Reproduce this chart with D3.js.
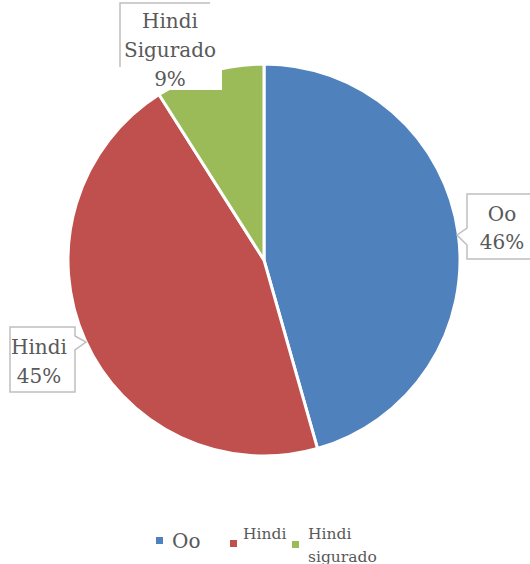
<!DOCTYPE html>
<html>
<head>
<meta charset="utf-8">
<script src="https://cdn.jsdelivr.net/npm/d3@7"></script>
<style>
  body { margin: 0; background: #fff; }
  text { font-family: "DejaVu Serif", serif; fill: #595959; }
</style>
</head>
<body>
<div id="chart"></div>
<script>
// chart data
var categories = ["Oo", "Hindi", "Hindi Sigurado"];
var values = [45.6, 45.4, 9.0];
var colors = ["#4F81BD", "#C0504D", "#9BBB59"];
var labelLines = [["Oo", "46%"], ["Hindi", "45%"], ["Hindi", "Sigurado", "9%"]];
var legendLines = [["Oo"], ["Hindi"], ["Hindi", "sigurado"]];

var width = 530, height = 564;
var cx = 264, cy = 260, radius = 196;

var svg = d3.select("#chart")
  .append("svg")
    .attr("width", width)
    .attr("height", height);

var data = categories.map(function (c, i) {
  return { name: c, value: values[i], color: colors[i], lines: labelLines[i], legend: legendLines[i] };
});

var pie = d3.pie()
  .sort(null)
  .value(function (d) { return d.value; });

var arc = d3.arc()
  .innerRadius(0)
  .outerRadius(radius);

var g = svg.append("g")
  .attr("transform", "translate(" + cx + "," + cy + ")");

g.selectAll("path")
  .data(pie(data))
  .enter()
  .append("path")
    .attr("d", arc)
    .attr("fill", function (d) { return d.data.color; })
    .attr("stroke", "#fff")
    .attr("stroke-width", 3);

// callout boxes (Excel style, placed by hand like the original)
var boxStroke = "#bfbfbf";

// Oo box with pointer on left side
svg.append("path")
  .attr("d", "M540,194 H467 V228 L457,235 L467,245 V259 H540")
  .attr("fill", "#fff")
  .attr("stroke", boxStroke)
  .attr("stroke-width", 1.5);

// Hindi box with pointer on right side
svg.append("path")
  .attr("d", "M10,327 H75 V336 L86,342 L75,350 V392 H10 Z")
  .attr("fill", "#fff")
  .attr("stroke", boxStroke)
  .attr("stroke-width", 1.5);

// Hindi Sigurado box, white fill cuts into the green slice
svg.append("rect")
  .attr("x", 120).attr("y", 3)
  .attr("width", 102).attr("height", 87)
  .attr("fill", "#fff");
svg.append("path")
  .attr("d", "M120,67 V3 H210")
  .attr("fill", "none")
  .attr("stroke", boxStroke)
  .attr("stroke-width", 1.5);

var labelPos = [
  { x: 502, y: 221 },
  { x: 39, y: 354 },
  { x: 170, y: 28 }
];
var lineGap = [28, 29, 29];

data.forEach(function (d, i) {
  var t = svg.append("text")
    .attr("text-anchor", "middle")
    .attr("font-size", 20);
  d.lines.forEach(function (s, j) {
    t.append("tspan")
      .attr("x", labelPos[i].x)
      .attr("y", labelPos[i].y + j * lineGap[i])
      .text(s);
  });
});

// legend
var legendItems = [
  { sq: 156, sy: 537, tx: 172, ty: 548, size: 20 },
  { sq: 230, sy: 540, tx: 243, ty: 539, size: 15.5 },
  { sq: 292, sy: 541, tx: 308, ty: 539, size: 15.5 }
];

data.forEach(function (d, i) {
  var it = legendItems[i];
  svg.append("rect")
    .attr("x", it.sq).attr("y", it.sy)
    .attr("width", 7).attr("height", 7)
    .attr("fill", d.color);
  var t = svg.append("text")
    .attr("font-size", it.size);
  d.legend.forEach(function (s, j) {
    t.append("tspan")
      .attr("x", it.tx)
      .attr("y", it.ty + j * 23)
      .text(s);
  });
});
</script>
</body>
</html>
